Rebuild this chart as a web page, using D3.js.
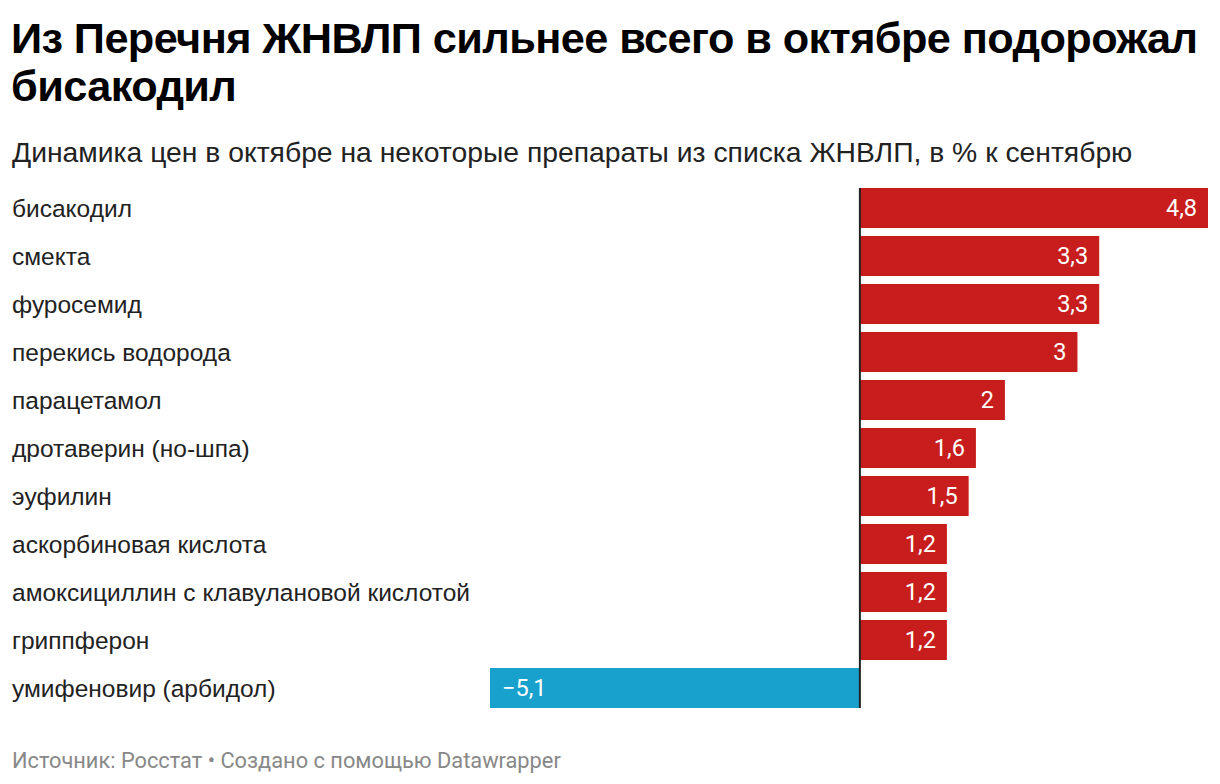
<!DOCTYPE html>
<html>
<head>
<meta charset="utf-8">
<script src="https://cdn.jsdelivr.net/npm/d3@7"></script>
<style>
  body { margin: 0; background: #fff; }
  svg { display: block; }
</style>
</head>
<body>
<script>
var drugs = [
  "бисакодил",
  "смекта",
  "фуросемид",
  "перекись водорода",
  "парацетамол",
  "дротаверин (но-шпа)",
  "эуфилин",
  "аскорбиновая кислота",
  "амоксициллин с клавулановой кислотой",
  "гриппферон",
  "умифеновир (арбидол)"
];
var changes = [4.8, 3.3, 3.3, 3, 2, 1.6, 1.5, 1.2, 1.2, 1.2, -5.1];

var titleLines = ["Из Перечня ЖНВЛП сильнее всего в октябре подорожал", "бисакодил"];
var subtitle = "Динамика цен в октябре на некоторые препараты из списка ЖНВЛП, в % к сентябрю";
var footer = "Источник: Росстат • Создано с помощью Datawrapper";

var width = 1220,
  height = 784;

var data = drugs.map((d, i) => ({ name: d, value: changes[i] }));

var svg = d3
  .select("body")
  .append("svg")
  .attr("width", width)
  .attr("height", height);

// title
svg
  .append("text")
  .attr("font-family", "'Liberation Sans', Arial, sans-serif")
  .attr("font-weight", "bold")
  .attr("font-size", 43.3)
  .attr("letter-spacing", -0.6)
  .attr("fill", "#000")
  .selectAll("tspan")
  .data(titleLines)
  .enter()
  .append("tspan")
  .attr("x", 11)
  .attr("y", (d, i) => 53 + i * 48)
  .text((d) => d);

svg
  .append("text")
  .attr("x", 12)
  .attr("y", 162)
  .attr("font-family", "'Liberation Sans', Arial, sans-serif")
  .attr("font-size", 28.3)
  .attr("fill", "#222")
  .text(subtitle);

var x = d3
  .scaleLinear()
  .domain([d3.min(changes), d3.max(changes)])
  .range([490, 1208]);

var y = d3
  .scaleBand()
  .domain(drugs)
  .range([184, 712])
  .paddingInner(1 / 6)
  .paddingOuter(1 / 12);

var colour = (v) => (v < 0 ? "#18a1cd" : "#c71e1d");

var rows = svg
  .selectAll("g.row")
  .data(data)
  .enter()
  .append("g")
  .attr("class", "row");

rows
  .append("rect")
  .attr("x", (d) => x(Math.min(0, d.value)))
  .attr("y", (d) => y(d.name))
  .attr("width", (d) => Math.abs(x(d.value) - x(0)))
  .attr("height", y.bandwidth())
  .attr("fill", (d) => colour(d.value));

rows
  .append("text")
  .attr("x", 12)
  .attr("y", (d) => y(d.name) + y.bandwidth() / 2)
  .attr("dy", "0.35em")
  .attr("font-family", "'Liberation Sans', Arial, sans-serif")
  .attr("font-size", 24.5)
  .attr("fill", "#222")
  .text((d) => d.name);

var fmt = (v) => (v < 0 ? "−" : "") + String(Math.abs(v)).replace(".", ",");

rows
  .append("text")
  .attr("x", (d) => (d.value < 0 ? x(d.value) + 12 : x(d.value) - 11))
  .attr("y", (d) => y(d.name) + y.bandwidth() / 2)
  .attr("dy", "0.36em")
  .attr("text-anchor", (d) => (d.value < 0 ? "start" : "end"))
  .attr("font-family", "Roboto, sans-serif")
  .attr("font-size", 23.5)
  .attr("fill", "#fff")
  .text((d) => fmt(d.value));

// zero line
svg
  .append("line")
  .attr("x1", x(0))
  .attr("x2", x(0))
  .attr("y1", y(drugs[0]))
  .attr("y2", y(drugs[drugs.length - 1]) + y.bandwidth())
  .attr("stroke", "#222")
  .attr("stroke-width", 2);

svg
  .append("text")
  .attr("x", 12)
  .attr("y", 768)
  .attr("font-family", "Roboto, sans-serif")
  .attr("font-size", 21.8)
  .attr("fill", "#888")
  .text(footer);
</script>
</body>
</html>
